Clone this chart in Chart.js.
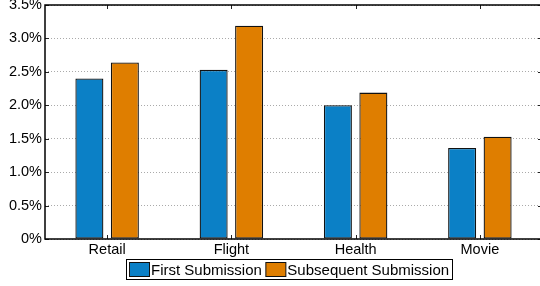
<!DOCTYPE html>
<html>
<head>
  <title>Submission Rates</title>
  <script src="https://cdn.jsdelivr.net/npm/chart.js"></script>
  <style>
    body {
      margin: 0;
      background: #fff;
      overflow: hidden;
    }
    #wrap {
      width: 543px;
      height: 286px;
    }
  </style>
</head>
<body>
  <div id="wrap"><canvas id="rateChart" width="543" height="286"></canvas></div>

  <script>
    const categories = ['Retail', 'Flight', 'Health', 'Movie'];
    const firstSubmission = [2.40, 2.53, 2.00, 1.36];
    const subsequentSubmission = [2.64, 3.19, 2.19, 1.53];
    const yTicks = [0, 0.5, 1.0, 1.5, 2.0, 2.5, 3.0, 3.5];

    const FONT = '"Liberation Sans", Arial, Helvetica, sans-serif';

    // box frame with inward tick marks on all four sides
    const framePlugin = {
      id: 'frame',
      afterDraw(chart) {
        const ctx = chart.ctx;
        const a = chart.chartArea;
        const xs = chart.scales.x, ys = chart.scales.y;
        const t = 4;
        ctx.save();
        ctx.strokeStyle = '#222';
        ctx.lineWidth = 1;
        ctx.beginPath();
        yTicks.forEach(v => {
          const y = Math.round(ys.getPixelForValue(v)) + 0.5;
          ctx.moveTo(a.left, y); ctx.lineTo(a.left + t, y);
          ctx.moveTo(a.right, y); ctx.lineTo(a.right - t, y);
        });
        categories.forEach((c, i) => {
          const x = Math.round(xs.getPixelForValue(i)) + 0.5;
          ctx.moveTo(x, a.bottom); ctx.lineTo(x, a.bottom - t);
          ctx.moveTo(x, a.top); ctx.lineTo(x, a.top + t);
        });
        ctx.stroke();
        ctx.strokeStyle = '#000';
        ctx.lineWidth = 1.5;
        ctx.strokeRect(a.left, a.top, a.right - a.left, a.bottom - a.top);
        ctx.restore();
      }
    };

    // legend in a bordered box under the axis
    const legendPlugin = {
      id: 'boxLegend',
      afterDraw(chart) {
        const ctx = chart.ctx;
        const ds = chart.data.datasets;
        const a = chart.chartArea;
        ctx.save();
        ctx.font = '15px ' + FONT;
        const sw = 20, sh = 14, gap = 1.5, itemGap = 4, pad = 3, h = 20;
        const widths = ds.map(d => sw + gap + ctx.measureText(d.label).width);
        const total = widths.reduce((s, w) => s + w, 0) + itemGap * (ds.length - 1) + pad * 2;
        const cx = (a.left + a.right) / 2 - 5;
        const left = Math.round(cx - total / 2) + 0.5;
        const top = Math.round(a.bottom) + 20.5;
        ctx.fillStyle = '#fff';
        ctx.fillRect(left, top, total, h);
        ctx.strokeStyle = '#000';
        ctx.lineWidth = 1;
        ctx.strokeRect(left, top, Math.round(total), h);
        let x = left + pad;
        ds.forEach((d, i) => {
          ctx.fillStyle = d.backgroundColor;
          ctx.fillRect(x, top + 3, sw, sh);
          ctx.strokeStyle = '#111';
          ctx.strokeRect(x, top + 3, sw, sh);
          ctx.fillStyle = '#000';
          ctx.textBaseline = 'middle';
          ctx.textAlign = 'left';
          ctx.fillText(d.label, x + sw + gap, top + h / 2 + 1);
          x += widths[i] + itemGap;
        });
        ctx.restore();
      }
    };

    const ctx = document.getElementById('rateChart').getContext('2d');
    new Chart(ctx, {
      type: 'bar',
      data: {
        labels: categories,
        datasets: [
          {
            label: 'First Submission',
            data: firstSubmission,
            backgroundColor: '#0b80c6',
            borderColor: '#111',
            borderWidth: 1.3,
            borderSkipped: false
          },
          {
            label: 'Subsequent Submission',
            data: subsequentSubmission,
            backgroundColor: '#df7e00',
            borderColor: '#111',
            borderWidth: 1.3,
            borderSkipped: false
          }
        ]
      },
      options: {
        responsive: false,
        animation: false,
        categoryPercentage: 0.571,
        barPercentage: 0.79,
        layout: { padding: { top: 5, right: 1, left: 0, bottom: 0 } },
        plugins: {
          legend: { display: false },
          tooltip: { enabled: false }
        },
        scales: {
          x: {
            grid: { display: false, drawTicks: false },
            border: { display: false },
            ticks: {
              color: '#000',
              padding: 2,
              font: { family: FONT, size: 14.5 }
            },
            afterFit(scale) {
              scale.height = 47;
              scale.paddingLeft = 0;
              scale.paddingRight = 0;
            }
          },
          y: {
            min: 0,
            max: 3.5,
            afterBuildTicks(scale) {
              scale.ticks = yTicks.map(v => ({ value: v }));
            },
            grid: { color: '#aaa', lineWidth: 1, drawTicks: false },
            border: { display: false, dash: [1, 2] },
            ticks: {
              color: '#000',
              padding: 3,
              font: { family: FONT, size: 14.5 }
              ,
              callback: v => v === 0 ? '0%' : v.toFixed(1) + '%'
            },
            afterFit(scale) {
              scale.width = 45;
              scale.paddingTop = 0;
              scale.paddingBottom = 0;
            }
          }
        }
      },
      plugins: [framePlugin, legendPlugin]
    });
  </script>
</body>
</html>
